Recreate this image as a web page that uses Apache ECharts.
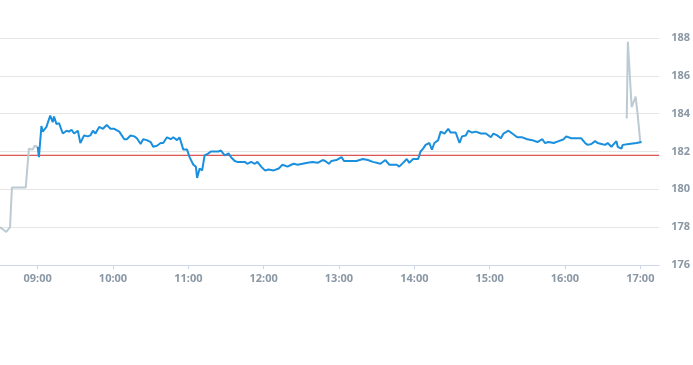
<!DOCTYPE html>
<html>
<head>
<meta charset="utf-8">
<script src="https://cdn.jsdelivr.net/npm/echarts@6/dist/echarts.min.js"></script>
<style>html,body{margin:0;padding:0;background:#fff;}#c{width:693px;height:365px;}</style>
</head>
<body>
<div id="c"></div>
<script>
// Pre-market (grey)
const preTimes = ['08:30','08:33','08:35','08:38','08:39:30','08:50:30','08:53','08:54:30','08:56','08:57:36','08:59','09:00'];
const preValues = [178.0,177.85,177.75,178.0,180.1,180.1,182.15,182.2,182.1,182.3,182.2,182.25];

// Regular session (blue)
const sessTimes = ['09:00','09:01','09:03','09:04','09:07','09:10','09:12','09:13','09:15','09:17','09:20','09:23','09:25','09:27','09:29','09:32','09:34','09:37','09:40','09:42','09:44','09:46','09:49','09:52','09:55','09:58',
'10:01','10:05','10:09','10:11','10:14','10:17','10:19','10:22','10:24','10:27','10:30','10:32','10:35','10:38','10:40','10:43','10:46','10:48','10:51','10:53','10:56','10:59',
'11:01','11:04','11:06','11:07','11:09','11:11','11:13','11:16','11:18','11:24','11:26','11:29','11:32','11:34','11:37','11:39','11:45','11:47','11:50','11:53','11:55','11:58',
'12:01','12:04','12:08','12:12','12:15','12:19','12:22','12:24','12:27','12:31','12:35','12:39','12:43','12:47','12:49','12:52','12:54','12:58',
'13:02','13:04','13:09','13:14','13:19','13:23','13:27','13:33','13:37','13:40','13:46','13:48','13:51','13:54','13:56','13:59',
'14:03','14:05','14:07','14:09','14:12','14:14','14:16','14:19','14:21','14:24','14:27','14:29','14:33','14:36','14:38','14:41','14:43','14:46','14:49','14:53','14:57',
'15:01','15:03','15:06','15:09','15:11','15:15','15:18','15:22','15:26','15:30','15:34','15:38','15:42','15:44','15:47','15:51','15:55','15:59',
'16:01','16:05','16:09','16:13','16:16','16:18','16:21','16:24','16:26','16:29','16:32','16:34','16:37','16:39','16:41','16:42','16:45','16:46','16:47','16:51','16:57','17:01'];
const sessValues = [182.25,181.7,183.35,183.05,183.3,183.9,183.55,183.85,183.45,183.5,182.95,183.1,183.05,183.15,182.95,183.1,182.45,182.85,182.8,182.85,183.1,182.95,183.3,183.2,183.4,183.2,
183.2,183.05,182.65,182.65,182.85,182.8,182.7,182.4,182.65,182.6,182.5,182.25,182.3,182.45,182.45,182.75,182.65,182.75,182.6,182.75,182.1,182.1,
181.7,181.3,181.2,180.6,181.1,181.0,181.8,181.9,182.0,182.0,182.05,181.8,181.9,181.7,181.5,181.45,181.45,181.35,181.45,181.35,181.45,181.2,
181.0,181.05,181.0,181.1,181.3,181.2,181.3,181.35,181.3,181.35,181.4,181.45,181.4,181.55,181.5,181.35,181.5,181.55,
181.7,181.5,181.5,181.5,181.6,181.55,181.45,181.35,181.55,181.3,181.3,181.2,181.4,181.6,181.4,181.6,
181.6,182.0,182.15,182.35,182.45,182.1,182.45,182.6,183.05,182.95,183.2,183.0,183.0,182.45,182.8,182.85,183.1,183.0,183.05,182.95,182.95,
182.75,182.95,182.85,182.7,182.95,183.1,182.95,182.75,182.75,182.65,182.6,182.5,182.65,182.45,182.5,182.45,182.55,182.65,
182.8,182.7,182.7,182.7,182.45,182.35,182.4,182.55,182.45,182.4,182.35,182.45,182.25,182.4,182.55,182.25,182.15,182.35,182.3,182.4,182.45,182.5];

// After-hours (grey)
const postTimes = ['16:49:12','16:50:06','16:51:18','16:53:06','16:54:30','16:56:18','16:57:54','17:00:00'];
const postValues = [183.75,187.8,187.8,184.35,184.35,184.9,183.95,182.5];

const previousClose = 181.8;
const xTickLabels = ['09:00','10:00','11:00','12:00','13:00','14:00','15:00','16:00','17:00'];
const yTickLabels = [176,178,180,182,184,186,188];
const xStart = '08:30', xEnd = '17:15';

function toMin(s){const p=s.split(':').map(Number);return p[0]*60+p[1]+(p[2]||0)/60;}
function fmt(m){const h=Math.floor(m/60),mm=Math.round(m%60);return (h<10?'0':'')+h+':'+(mm<10?'0':'')+mm;}
function pairs(t,v){return t.map((x,i)=>[toMin(x),v[i]]);}

const labelColor = '#8a97a5';
const chart = echarts.init(document.getElementById('c'));
chart.setOption({
  animation:false,
  grid:{left:0,right:28,top:38,bottom:100,containLabel:false},
  xAxis:{
    type:'value',min:toMin(xStart),max:toMin(xEnd),
    axisLine:{show:true,lineStyle:{color:'#ccd6eb',width:1}},
    axisTick:{show:true,customValues:xTickLabels.map(toMin),length:4,lineStyle:{color:'#ccd6eb'}},
    axisLabel:{customValues:xTickLabels.map(toMin),formatter:v=>fmt(v),color:labelColor,fontSize:11,fontWeight:'bold',fontFamily:'"Open Sans", Arial, sans-serif',margin:8},
    splitLine:{show:false}
  },
  yAxis:{
    type:'value',position:'right',min:yTickLabels[0],max:yTickLabels[yTickLabels.length-1],interval:2,
    axisLine:{show:false},axisTick:{show:false},
    axisLabel:{color:labelColor,fontSize:11,fontWeight:'bold',fontFamily:'"Open Sans", Arial, sans-serif',margin:12,align:'left'},
    splitLine:{lineStyle:{color:'#e6e6e6',width:1}}
  },
  series:[
    {type:'line',data:[[toMin(xStart),previousClose],[toMin(xEnd),previousClose]],showSymbol:false,silent:true,lineStyle:{color:'#d42a2a',width:1},itemStyle:{color:'#d42a2a'},z:1},
    {type:'line',data:pairs(preTimes,preValues),showSymbol:false,lineStyle:{color:'#bccad3',width:2},itemStyle:{color:'#bccad3'},z:2},
    {type:'line',data:pairs(postTimes,postValues),showSymbol:false,lineStyle:{color:'#bccad3',width:2},itemStyle:{color:'#bccad3'},z:2},
    {type:'line',data:pairs(sessTimes,sessValues),showSymbol:false,lineStyle:{color:'#1a8fdd',width:2},itemStyle:{color:'#1a8fdd'},z:3}
  ]
});
</script>
</body>
</html>
